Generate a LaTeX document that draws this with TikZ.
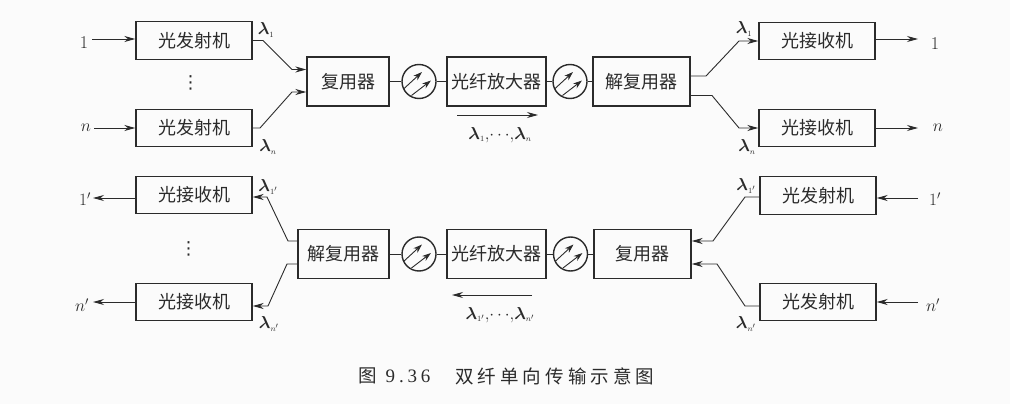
\documentclass[tikz,border=0pt]{standalone}
\usepackage{amsmath}
\usepackage{fontspec}
\usepackage{tikz}
\usetikzlibrary{arrows.meta}
\newfontfamily\cjk{Noto Sans CJK SC}
\newfontfamily\capcjk[LetterSpace=22]{Noto Sans CJK SC}
\newfontfamily\numfont[LetterSpace=20]{Liberation Serif}
\newfontfamily\dotsfont{DejaVu Sans}
\definecolor{ink}{HTML}{2B2B2B}
\definecolor{paper}{HTML}{FBFBFB}
\newcommand{\wl}[1]{\ensuremath{\boldsymbol{\lambda}_{\scriptscriptstyle #1}}}
\tikzset{
  blockbox/.style={draw=ink,line width=1.4pt,inner sep=0pt,font=\cjk\fontsize{18}{18}\selectfont,text=ink},
  endbox/.style={blockbox,minimum width=116pt,minimum height=37.5pt},
  midbox/.style={blockbox,minimum height=49pt},
  lbl/.style={inner sep=0pt,text=ink,font=\fontsize{18}{18}\selectfont},
  wave/.style={inner sep=0pt,text=ink,font=\fontsize{16}{16}\selectfont},
  vdotlbl/.style={inner sep=0pt,text=ink,font=\dotsfont\fontsize{18}{18}\selectfont},
  wire/.style={draw=ink,line width=0.9pt},
  arrowline/.style={wire,-{Stealth[length=11pt,width=6pt]}},
  ampring/.style={draw=ink,line width=1.4pt,circle,minimum size=34pt,inner sep=0pt,
    path picture={
      \draw[ink,line width=0.9pt,-{Stealth[length=9pt,width=6pt]}]
        ([shift={(-16pt,-8pt)}]path picture bounding box.center) -- ++(19pt,17.5pt);
      \draw[ink,line width=0.9pt,-{Stealth[length=9pt,width=6pt]}]
        ([shift={(-7.5pt,-14pt)}]path picture bounding box.center) -- ++(19.5pt,15pt);
    }},
}
\begin{document}
\begin{tikzpicture}[x=1pt,y=-1pt]
  \fill[paper] (0,0) rectangle (1010,404);
  \useasboundingbox (0,0) rectangle (1010,404);

  % upper line
  \node[endbox] (txa) at (194,40.5) {光发射机};
  \node[endbox] (txb) at (194,128) {光发射机};
  \node[midbox,minimum width=82pt] (muxa) at (348,81.5) {复用器};
  \node[ampring] (ringa) at (419,81.5) {};
  \node[midbox,minimum width=99pt] (ampa) at (496.5,81.5) {光纤放大器};
  \node[ampring] (ringb) at (570,81.5) {};
  \node[midbox,minimum width=97pt] (demuxa) at (641.5,81.5) {解复用器};
  \node[endbox] (rxa) at (817,41) {光接收机};
  \node[endbox] (rxb) at (817,128) {光接收机};

  \node[lbl] (ina) at (84,43) {1};
  \node[lbl] (inb) at (86,128) {$n$};
  \node[lbl] (outa) at (935,44) {1};
  \node[lbl] (outb) at (938,128) {$n$};
  \coordinate (ina-end) at (92,39);
  \coordinate (inb-end) at (94,128);
  \coordinate (outa-end) at (918,39);
  \coordinate (outb-end) at (918,128);

  \draw[arrowline] (ina-end) -- (txa.west |- ina-end);
  \draw[arrowline] (inb-end) -- (txb.west |- inb-end);
  \draw[arrowline] (rxa.east |- outa-end) -- (outa-end);
  \draw[arrowline] (rxb.east |- outb-end) -- (outb-end);

  \coordinate (ka1) at (263,40.5);
  \coordinate (ka2) at (292,69.5);
  \coordinate (kb1) at (260,128);
  \coordinate (kb2) at (292,92);
  \coordinate (kc1) at (706,76);
  \coordinate (kc2) at (739,41);
  \coordinate (kd1) at (712,95.5);
  \coordinate (kd2) at (739,128);
  \draw[arrowline] (txa.east) -- (ka1) -- (ka2) -- (muxa.west |- ka2);
  \draw[arrowline] (txb.east) -- (kb1) -- (kb2) -- (muxa.west |- kb2);
  \draw[wire] (muxa) -- (ringa);
  \draw[wire] (ringa) -- (ampa);
  \draw[wire] (ampa) -- (ringb);
  \draw[wire] (ringb) -- (demuxa);
  \draw[arrowline] (demuxa.east |- kc1) -- (kc1) -- (kc2) -- (rxa.west);
  \draw[arrowline] (demuxa.east |- kd1) -- (kd1) -- (kd2) -- (rxb.west);

  \node[vdotlbl] (dotsa) at (190.5,83) {⋮};
  \node[wave] (la1) at (266,30) {\wl{1}};
  \node[wave] (lan) at (268,147) {\wl{n}};
  \node[wave] (lb1) at (744,29) {\wl{1}};
  \node[wave] (lbn) at (747,147) {\wl{n}};
  \coordinate (flowa-s) at (457,115);
  \coordinate (flowa-e) at (538,115);
  \draw[arrowline] (flowa-s) -- (flowa-e);
  \node[wave] (flowa) at (500,135) {\wl{1}${,}\!\cdots\!{,}$\wl{n}};

  % lower line
  \node[endbox] (rxc) at (194,195) {光接收机};
  \node[endbox] (rxd) at (194,302) {光接收机};
  \node[midbox,minimum width=91pt] (demuxb) at (343.5,254) {解复用器};
  \node[ampring] (ringc) at (419,254) {};
  \node[midbox,minimum width=99pt] (ampb) at (496.5,254) {光纤放大器};
  \node[ampring] (ringd) at (570.5,254) {};
  \node[midbox,minimum width=97pt] (muxb) at (642.5,254) {复用器};
  \node[endbox] (txc) at (818,195.5) {光发射机};
  \node[endbox] (txd) at (818,302) {光发射机};

  \node[lbl] (outc) at (85,199) {$1'$};
  \node[lbl] (outd) at (82,305) {$n'$};
  \node[lbl] (inc) at (935,199) {$1'$};
  \node[lbl] (ind) at (933,305) {$n'$};
  \coordinate (outc-end) at (93,198);
  \coordinate (outd-end) at (93,302);
  \coordinate (inc-end) at (918,198);
  \coordinate (ind-end) at (918,302);

  \draw[arrowline] (rxc.west |- outc-end) -- (outc-end);
  \draw[arrowline] (rxd.west |- outd-end) -- (outd-end);
  \draw[arrowline] (inc-end) -- (txc.east |- inc-end);
  \draw[arrowline] (ind-end) -- (txd.east |- ind-end);

  \coordinate (ke1) at (288,241);
  \coordinate (ke2) at (267,197);
  \coordinate (kf1) at (287,264);
  \coordinate (kf2) at (268,306);
  \coordinate (kg1) at (745,197);
  \coordinate (kg2) at (713,241);
  \coordinate (kh1) at (745,306);
  \coordinate (kh2) at (717,264);
  \draw[arrowline] (demuxb.west |- ke1) -- (ke1) -- (ke2) -- (rxc.east |- ke2);
  \draw[arrowline] (demuxb.west |- kf1) -- (kf1) -- (kf2) -- (rxd.east |- kf2);
  \draw[wire] (demuxb) -- (ringc);
  \draw[wire] (ringc) -- (ampb);
  \draw[wire] (ampb) -- (ringd);
  \draw[wire] (ringd) -- (muxb);
  \draw[arrowline] (txc.west |- kg1) -- (kg1) -- (kg2) -- (muxb.east |- kg2);
  \draw[arrowline] (txd.west |- kh1) -- (kh1) -- (kh2) -- (muxb.east |- kh2);

  \node[vdotlbl] (dotsb) at (188.5,249) {⋮};
  \node[wave] (lc1) at (268,187) {\wl{1'}};
  \node[wave] (lcn) at (269,324) {\wl{n'}};
  \node[wave] (ld1) at (746,186) {\wl{1'}};
  \node[wave] (ldn) at (746,324) {\wl{n'}};
  \coordinate (flowb-s) at (532,295);
  \coordinate (flowb-e) at (452,295);
  \draw[arrowline] (flowb-s) -- (flowb-e);
  \node[wave] (flowb) at (500,315) {\wl{1'}${,}\!\cdots\!{,}$\wl{n'}};

  % caption
  \node[lbl,anchor=west,font=\cjk\fontsize{18.5}{18.5}\selectfont] (capnum) at (358,376) {图\hspace{9pt}{\numfont\fontsize{19}{19}\selectfont 9.36}};
  \node[lbl,anchor=west,font=\capcjk\fontsize{18.5}{18.5}\selectfont] (captxt) at (455,376) {双纤单向传输示意图};
\end{tikzpicture}
\end{document}
